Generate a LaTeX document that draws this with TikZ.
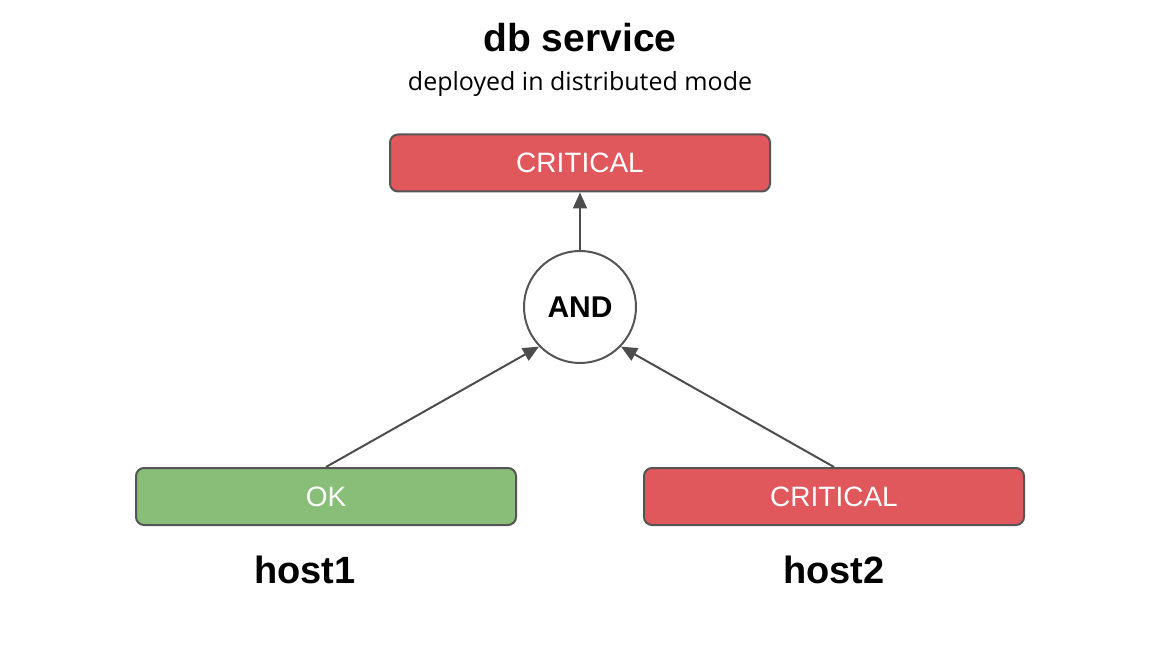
\documentclass[tikz,border=0pt]{standalone}
\usepackage{fontspec}
\setmainfont{Liberation Sans}
\newfontfamily\opensans{Open Sans}
\usetikzlibrary{arrows.meta}
\definecolor{critred}{HTML}{E0585C}
\definecolor{okgreen}{HTML}{88BE78}
\definecolor{edgegray}{HTML}{555555}
\definecolor{arrowgray}{HTML}{4D4D4D}
\tikzset{
  statebox/.style={draw=edgegray, line width=2pt, rounded corners=8pt,
    minimum width=380pt, minimum height=57pt, inner sep=0pt,
    text=white, font=\fontsize{28}{32}\selectfont},
  crit/.style={statebox, fill=critred},
  okst/.style={statebox, fill=okgreen},
  gate/.style={draw=edgegray, line width=2pt, circle, minimum size=112pt, inner sep=0pt,
    fill=white, font=\bfseries\fontsize{30}{34}\selectfont},
  conn/.style={draw=arrowgray, line width=2pt, -{Triangle[length=16pt,width=14pt]}},
  hostlabel/.style={font=\bfseries\fontsize{38}{42}\selectfont, anchor=base},
}
\begin{document}
\begin{tikzpicture}[x=1pt,y=-1pt]
\useasboundingbox[fill=white] (0,0) rectangle (1160,660);
\node[font=\bfseries\fontsize{39}{44}\selectfont, anchor=base] (title) at (580,52) {db service};
\node[font=\opensans\fontsize{25}{29}\selectfont, anchor=base] (sub) at (580,91) {deployed in distributed mode};
\node[crit] (top) at (580,163) {CRITICAL};
\node[gate] (and) at (580,307) {AND};
\node[okst] (h1) at (326,496.5) {OK};
\node[crit] (h2) at (834,496.5) {CRITICAL};
\node[hostlabel] (l1) at (305,583) {host1};
\node[hostlabel] (l2) at (834,583) {host2};
\draw[conn] (and.north) -- (top.south);
\draw[conn] (h1.north) -- (and.224);
\draw[conn] (h2.north) -- (and.316);
\end{tikzpicture}
\end{document}
